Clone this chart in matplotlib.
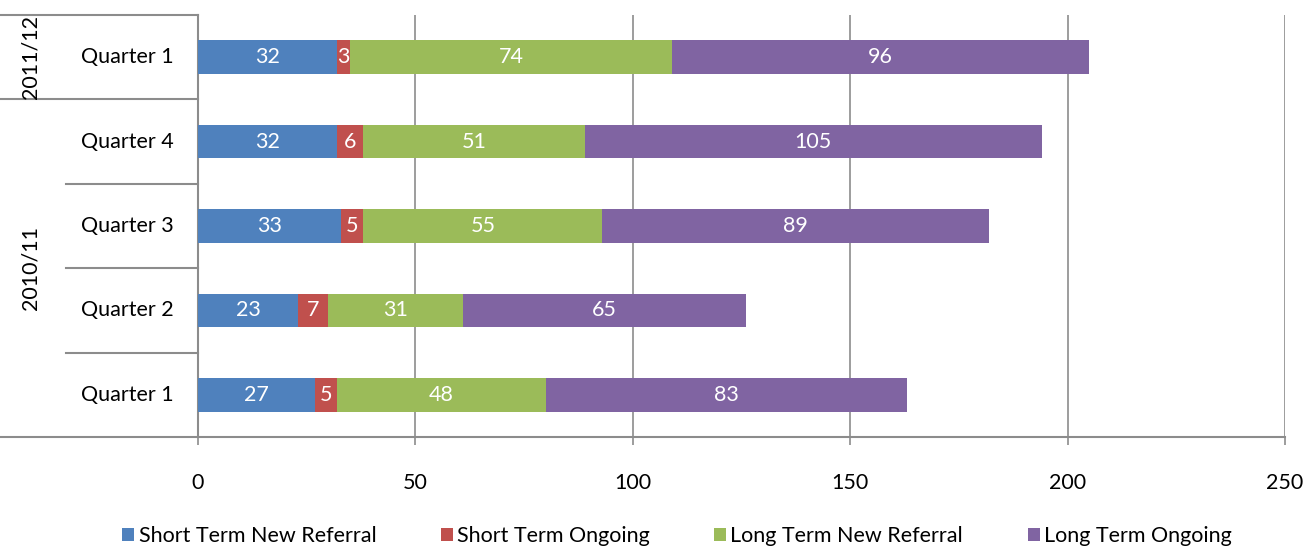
import numpy as np
import matplotlib
matplotlib.use('Agg')
import matplotlib.pyplot as plt
import matplotlib.transforms as mtransforms

plt.rcParams['font.family'] = ['Lato', 'DejaVu Sans']

# rows listed bottom to top
quarters = ['Quarter 1', 'Quarter 2', 'Quarter 3', 'Quarter 4', 'Quarter 1']
years = ['2010/11', '2011/12']
year_rows = [4, 1]  # number of quarters in each year group

short_new = [27, 23, 33, 32, 32]
short_ongoing = [5, 7, 5, 6, 3]
long_new = [48, 31, 55, 51, 74]
long_ongoing = [83, 65, 89, 105, 96]

series_names = ['Short Term New Referral', 'Short Term Ongoing',
                'Long Term New Referral', 'Long Term Ongoing']
series = [short_new, short_ongoing, long_new, long_ongoing]
colors = ['#4F81BD', '#C0504D', '#9BBB59', '#8064A2']
grid_col = '#8C8C8C'
fs = 15.5

W, H = 1307, 546
fig = plt.figure(figsize=(W / 100, H / 100), dpi=100)
ax = fig.add_axes([198 / W, 1 - 437 / H, 1087 / W, 422 / H])

y = np.arange(len(quarters))
left = np.zeros(len(quarters))
for name, vals, col in zip(series_names, series, colors):
    vals = np.array(vals, dtype=float)
    ax.barh(y, vals, left=left, height=0.4, color=col, label=name, zorder=3)
    for yi, l, v in zip(y, left, vals):
        ax.text(l + v / 2, yi, f'{int(v)}', ha='center', va='center',
                color='white', fontsize=fs, zorder=4)
    left += vals

ax.set_xlim(0, 250)
ax.set_ylim(-0.5, len(quarters) - 0.5)
ax.set_xticks(np.arange(0, 251, 50))
ax.tick_params(axis='x', length=6, width=1.2, color=grid_col, labelsize=fs,
               pad=20)
ax.set_yticks([])
ax.xaxis.grid(True, color=grid_col, linewidth=1.2, zorder=0)
for s in ['top', 'right']:
    ax.spines[s].set_visible(False)
for s in ['left', 'bottom']:
    ax.spines[s].set_color(grid_col)
    ax.spines[s].set_linewidth(1.5)

# multi-level category axis on the left
trans = mtransforms.blended_transform_factory(ax.transAxes, ax.transData)
x_outer = -198 / 1087
x_inner = -132 / 1087
for yi, q in zip(y, quarters):
    ax.text(-71 / 1087, yi, q, transform=trans, ha='center', va='center',
            fontsize=fs)

bounds = np.cumsum([0] + year_rows) - 0.5
for b in y[:-1] + 0.5:
    if b not in bounds:
        ax.plot([x_inner, 0], [b, b], transform=trans, color=grid_col,
                linewidth=1.5, clip_on=False)
for b in bounds:
    ax.plot([x_outer, 0], [b, b], transform=trans, color=grid_col,
            linewidth=1.5, clip_on=False)
for yr, lo, hi in zip(years, bounds[:-1], bounds[1:]):
    ax.text(-168 / 1087, (lo + hi) / 2, yr, transform=trans, ha='center',
            va='center', rotation=90, fontsize=fs)

fig.legend(loc='center', bbox_to_anchor=(0.518, 0.018), ncol=4, frameon=False,
           fontsize=fs, handlelength=0.55, handleheight=0.55,
           handletextpad=0.2, columnspacing=3.0, borderaxespad=0)

fig.savefig('out.png', dpi=100)
